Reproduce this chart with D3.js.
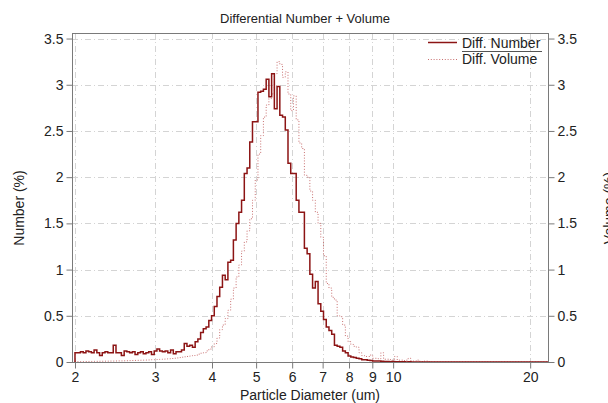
<!DOCTYPE html>
<html>
<head>
<meta charset="utf-8">
<script src="https://cdn.jsdelivr.net/npm/d3@7"></script>
<style>
body { margin: 0; background: #fff; }
text { font-family: "Liberation Sans", Arial, sans-serif; fill: #222; }
</style>
</head>
<body>
<svg id="chart" width="608" height="403"></svg>
<script>
// bin edges (um), log spaced
var binEdges = [
  2.000, 2.028, 2.056, 2.085, 2.114, 2.143, 2.173, 2.203, 2.234, 2.265,
  2.296, 2.328, 2.361, 2.393, 2.427, 2.461, 2.495, 2.529, 2.565, 2.600,
  2.637, 2.673, 2.710, 2.748, 2.786, 2.825, 2.864, 2.904, 2.945, 2.986,
  3.027, 3.069, 3.112, 3.155, 3.199, 3.244, 3.289, 3.334, 3.381, 3.428,
  3.476, 3.524, 3.573, 3.623, 3.673, 3.724, 3.776, 3.828, 3.882, 3.936,
  3.991, 4.046, 4.102, 4.159, 4.217, 4.276, 4.335, 4.396, 4.457, 4.519,
  4.582, 4.645, 4.710, 4.776, 4.842, 4.909, 4.978, 5.047, 5.117, 5.188,
  5.261, 5.334, 5.408, 5.483, 5.559, 5.637, 5.715, 5.795, 5.875, 5.957,
  6.040, 6.124, 6.209, 6.296, 6.383, 6.472, 6.562, 6.653, 6.746, 6.840,
  6.935, 7.031, 7.129, 7.228, 7.329, 7.431, 7.534, 7.639, 7.745, 7.853,
  7.962, 8.073, 8.185, 8.299, 8.415, 8.532, 8.650, 8.771, 8.893, 9.016,
  9.142, 9.269, 9.398, 9.529, 9.661, 9.796, 9.932, 10.070, 10.210, 10.352,
  10.496, 10.642, 10.790, 10.940, 11.092, 11.247, 11.403, 11.562, 11.723, 11.886,
  12.051, 12.219
];

var numberPct = [
  0.10, 0.10, 0.11, 0.10, 0.12, 0.11, 0.10, 0.13, 0.10, 0.07,
  0.10, 0.11, 0.10, 0.10, 0.18, 0.10, 0.10, 0.07, 0.12, 0.11,
  0.10, 0.11, 0.08, 0.10, 0.11, 0.09, 0.10, 0.11, 0.08, 0.12,
  0.14, 0.12, 0.11, 0.12, 0.10, 0.13, 0.09, 0.11, 0.11, 0.13,
  0.20, 0.17, 0.18, 0.16, 0.22, 0.25, 0.32, 0.36, 0.38, 0.45,
  0.50, 0.60, 0.71, 0.81, 0.94, 0.89, 1.08, 1.10, 1.32, 1.50,
  1.62, 1.75, 2.04, 2.10, 2.38, 2.60, 2.60, 2.92, 2.93, 2.95,
  3.06, 2.87, 3.12, 2.74, 2.98, 2.67, 2.65, 2.51, 2.15, 2.04,
  2.04, 1.75, 1.62, 1.62, 1.23, 1.17, 0.95, 0.80, 0.87, 0.63,
  0.55, 0.46, 0.38, 0.34, 0.30, 0.18, 0.17, 0.16, 0.12, 0.10,
  0.065, 0.055, 0.05, 0.04, 0.035, 0.025, 0.025, 0.02, 0.015, 0.01,
  0.01, 0.01, 0.008, 0.005, 0.006, 0.004, 0.005, 0.003, 0.003, 0.002,
  0.002, 0.001, 0.002, 0.001, 0.001, 0.001, 0.001, 0, 0.001, 0,
  0
];

var volumePct = [
  0.004, 0.004, 0.005, 0.005, 0.005, 0.006, 0.006, 0.007, 0.007, 0.008,
  0.008, 0.009, 0.009, 0.010, 0.010, 0.011, 0.012, 0.012, 0.013, 0.014,
  0.015, 0.016, 0.017, 0.018, 0.019, 0.020, 0.021, 0.022, 0.024, 0.025,
  0.027, 0.029, 0.031, 0.033, 0.035, 0.038, 0.041, 0.044, 0.048, 0.052,
  0.056, 0.060, 0.065, 0.070, 0.075, 0.085, 0.095, 0.10, 0.12, 0.14,
  0.165, 0.20, 0.26, 0.35, 0.40, 0.47, 0.56, 0.68, 0.80, 0.92,
  1.05, 1.20, 1.30, 1.42, 1.55, 1.75, 1.97, 2.25, 2.45, 2.65,
  2.78, 2.85, 2.90, 3.12, 3.25, 3.22, 3.08, 3.14, 2.90, 2.72,
  2.88, 2.62, 2.37, 2.31, 2.02, 2.00, 1.85, 1.75, 1.62, 1.50,
  1.35, 1.15, 0.85, 0.80, 0.70, 0.67, 0.50, 0.49, 0.40, 0.28,
  0.22, 0.19, 0.17, 0.16, 0.10, 0.07, 0.06, 0.06, 0.075, 0.04,
  0.04, 0.035, 0.10, 0.03, 0.03, 0.025, 0.02, 0.06, 0.02, 0.02,
  0.015, 0.02, 0.04, 0.01, 0.01, 0.02, 0.008, 0.005, 0.012, 0.003,
  0
];

var xTicks = [2, 3, 4, 5, 6, 7, 8, 9, 10, 20];
var yTicks = [0, 0.5, 1, 1.5, 2, 2.5, 3, 3.5];

var numberColor = "#8c1414";
var volumeColor = "#c87070";

var svg = d3.select("#chart");
var plotLeft = 72, plotRight = 549, plotTop = 33, plotBottom = 362;

var x = d3.scaleLog().domain([1.97, 22.0]).range([plotLeft, plotRight]);
var y = d3.scaleLinear().domain([0, 3.56]).range([plotBottom, plotTop]);

// grid
var grid = svg.append("g")
  .attr("stroke", "#d4d4d4")
  .attr("stroke-dasharray", "6,3,1,3")
  .attr("stroke-width", 1);
grid.selectAll("line.v")
  .data(xTicks)
  .enter().append("line")
  .attr("class", "v")
  .attr("x1", d => Math.round(x(d)) + 0.5).attr("x2", d => Math.round(x(d)) + 0.5)
  .attr("y1", plotTop).attr("y2", plotBottom);
grid.selectAll("line.h")
  .data(yTicks.slice(1))
  .enter().append("line")
  .attr("class", "h")
  .attr("x1", plotLeft).attr("x2", plotRight)
  .attr("y1", d => Math.round(y(d)) + 0.5).attr("y2", d => Math.round(y(d)) + 0.5);

svg.append("defs").append("clipPath").attr("id", "plotclip")
  .append("rect").attr("x", plotLeft).attr("y", plotTop)
  .attr("width", plotRight - plotLeft).attr("height", plotBottom - plotTop + 1);

function stepPoints(vals) {
  var pts = [[binEdges[0], 0]];
  vals.forEach(function (v, i) { pts.push([binEdges[i], v]); });
  pts.push([binEdges[binEdges.length - 1], 0]);
  pts.push([22.0, 0]);
  return pts;
}

var line = d3.line()
  .x(d => x(d[0]))
  .y(d => y(d[1]))
  .curve(d3.curveStepAfter);

var plot = svg.append("g").attr("clip-path", "url(#plotclip)");

plot.append("path")
  .attr("d", line(stepPoints(volumePct)))
  .attr("fill", "none")
  .attr("stroke", volumeColor)
  .attr("stroke-width", 1)
  .attr("stroke-dasharray", "1,1.8");

plot.append("path")
  .attr("d", line(stepPoints(numberPct)))
  .attr("fill", "none")
  .attr("stroke", numberColor)
  .attr("stroke-width", 1.5);

// frame
svg.append("rect")
  .attr("x", plotLeft + 0.5).attr("y", plotTop + 0.5)
  .attr("width", plotRight - plotLeft - 1).attr("height", plotBottom - plotTop)
  .attr("fill", "none")
  .attr("stroke", "#7a7a7a");

// axes
var xAxis = svg.append("g")
  .attr("transform", "translate(0," + (plotBottom + 0.5) + ")")
  .call(d3.axisBottom(x).tickValues(xTicks).tickFormat(d3.format("d")).tickSize(6).tickPadding(4));
var yLeft = svg.append("g")
  .attr("transform", "translate(" + (plotLeft + 0.5) + ",0)")
  .call(d3.axisLeft(y).tickValues(yTicks).tickFormat(d => d).tickSize(6).tickPadding(3));
var yRight = svg.append("g")
  .attr("transform", "translate(" + (plotRight - 0.5) + ",0)")
  .call(d3.axisRight(y).tickValues(yTicks).tickFormat(d => d).tickSize(6).tickPadding(3));

[xAxis, yLeft, yRight].forEach(function (g) {
  g.select(".domain").remove();
  g.selectAll(".tick line").attr("stroke", "#7a7a7a");
  g.selectAll(".tick text").style("font-size", "14px").attr("fill", "#222");
});

// titles
svg.append("text")
  .attr("x", 305).attr("y", 23)
  .attr("text-anchor", "middle")
  .style("font-size", "13px")
  .text("Differential Number + Volume");

svg.append("text")
  .attr("x", 310).attr("y", 400)
  .attr("text-anchor", "middle")
  .style("font-size", "14px")
  .text("Particle Diameter (um)");

svg.append("text")
  .attr("transform", "translate(24,208) rotate(-90)")
  .attr("text-anchor", "middle")
  .style("font-size", "14px")
  .text("Number (%)");

svg.append("text")
  .attr("transform", "translate(614,208) rotate(-90)")
  .attr("text-anchor", "middle")
  .style("font-size", "14px")
  .text("Volume (%)");

// legend
var legend = svg.append("g");
legend.append("line")
  .attr("x1", 428).attr("x2", 457).attr("y1", 42.5).attr("y2", 42.5)
  .attr("stroke", numberColor).attr("stroke-width", 1.5);
legend.append("text")
  .attr("x", 462).attr("y", 48)
  .style("font-size", "14px")
  .text("Diff. Number");
legend.append("line")
  .attr("x1", 462).attr("x2", 542).attr("y1", 51.5).attr("y2", 51.5)
  .attr("stroke", "#555").attr("stroke-width", 1);
legend.append("line")
  .attr("x1", 428).attr("x2", 457).attr("y1", 59.5).attr("y2", 59.5)
  .attr("stroke", volumeColor).attr("stroke-width", 1)
  .attr("stroke-dasharray", "1,1.8");
legend.append("text")
  .attr("x", 462).attr("y", 64)
  .style("font-size", "14px")
  .text("Diff. Volume");
</script>
</body>
</html>
